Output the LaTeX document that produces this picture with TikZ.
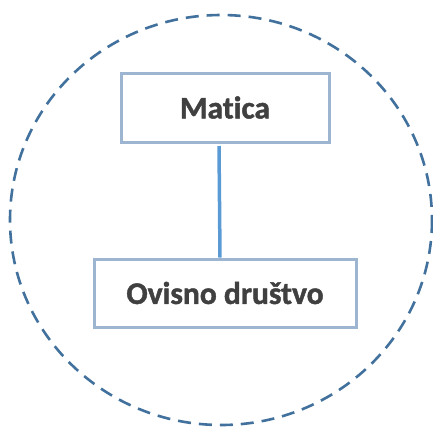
\documentclass[tikz,border=0pt]{standalone}
\usepackage{fontspec}
\setmainfont[Ligatures={NoCommon}, BoldFeatures={FakeBold=1.4}]{Carlito}
\definecolor{ringblue}{HTML}{41719C}
\definecolor{boxedge}{HTML}{9DB5D1}
\definecolor{linkblue}{HTML}{5B9BD5}
\definecolor{txt}{HTML}{404040}
\tikzset{
  entity/.style={draw=boxedge, line width=3pt, fill=white, inner sep=0pt,
    font=\fontsize{31.5}{37}\selectfont\bfseries, text=txt},
  ring/.style={draw=ringblue, line width=2.6pt, dash pattern=on 13pt off 8pt},
  link/.style={draw=linkblue, line width=3.5pt}
}
\begin{document}
\begin{tikzpicture}[x=1pt,y=-1pt]
\useasboundingbox (0,0) rectangle (433,426);
\draw[ring] (221,220) ellipse [x radius=211, y radius=205];
\node[entity, minimum width=208pt, minimum height=69pt] (m) at (225,107.5) {Matica};
\node[entity, minimum width=262pt, minimum height=68pt] (o) at (225,293) {Ovisno društvo};
\coordinate (mt) at (219,146);
\draw[link] (mt) -- (o.north -| 220,0);
\end{tikzpicture}
\end{document}
